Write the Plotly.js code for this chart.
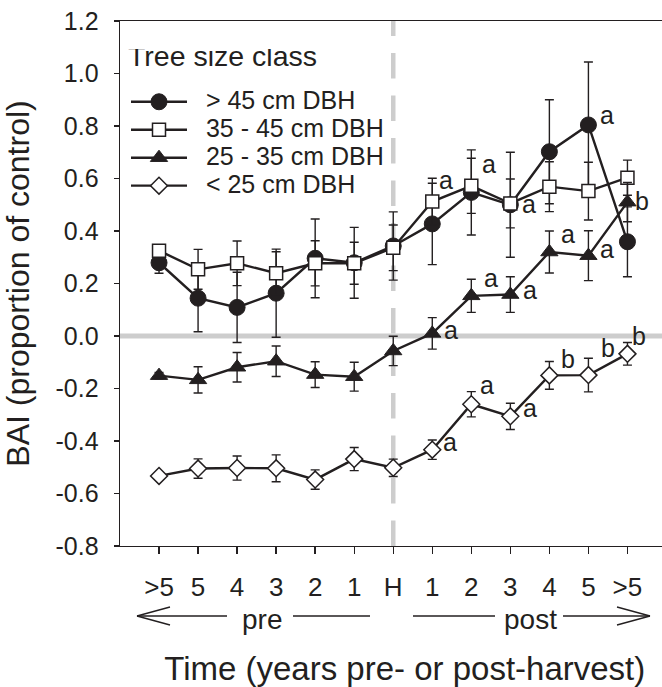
<!DOCTYPE html>
<html>
<head>
<meta charset="utf-8">
<script src="https://cdn.plot.ly/plotly-3.0.1.min.js"></script>
<style>
  html, body { margin: 0; padding: 0; background: #fff; }
  #chart { width: 662px; height: 687px; }
</style>
</head>
<body>
<div id="chart"></div>
<script>
// ---- Data ----
const timeTicks = [">5", "5", "4", "3", "2", "1", "H", "1", "2", "3", "4", "5", ">5"];
const timeIndex = [0, 1, 2, 3, 4, 5, 6, 7, 8, 9, 10, 11, 12];

const seriesNames = ["> 45 cm DBH", "35 - 45 cm DBH", "25 - 35 cm DBH", "&lt; 25 cm DBH"];

const bai_gt45   = [0.279, 0.144, 0.109, 0.163, 0.296, 0.279, 0.343, 0.427, 0.547, 0.500, 0.702, 0.804, 0.359];
const err_gt45   = [0.040, 0.128, 0.134, 0.168, 0.150, 0.135, 0.130, 0.155, 0.162, 0.200, 0.198, 0.240, 0.133];

const bai_35_45  = [0.325, 0.254, 0.277, 0.239, 0.277, 0.277, 0.336, 0.512, 0.572, 0.505, 0.569, 0.552, 0.603];
const err_35_45  = [0.015, 0.076, 0.085, 0.082, 0.086, 0.080, 0.087, 0.089, 0.105, 0.093, 0.095, 0.110, 0.067];

const bai_25_35  = [-0.151, -0.167, -0.119, -0.096, -0.147, -0.155, -0.057, 0.010, 0.153, 0.158, 0.320, 0.306, 0.510];
const err_25_35  = [0.012, 0.050, 0.056, 0.058, 0.049, 0.055, 0.056, 0.060, 0.063, 0.068, 0.080, 0.095, 0.075];

const bai_lt25   = [-0.533, -0.505, -0.503, -0.504, -0.547, -0.469, -0.502, -0.433, -0.260, -0.306, -0.150, -0.149, -0.068];
const err_lt25   = [0.010, 0.037, 0.046, 0.051, 0.037, 0.044, 0.033, 0.037, 0.048, 0.050, 0.053, 0.064, 0.043];

// significance letters per series (empty = none)
const sig_gt45   = ["", "", "", "", "", "", "", "", "", "", "", "a", ""];
const sig_35_45  = ["", "", "", "", "", "", "", "a", "a", "a", "", "", ""];
const sig_25_35  = ["", "", "", "", "", "", "", "a", "a", "a", "a", "a", "b"];
const sig_lt25   = ["", "", "", "", "", "", "", "a", "a", "a", "b", "b", "b"];

const yTickVals = [-0.8, -0.6, -0.4, -0.2, 0.0, 0.2, 0.4, 0.6, 0.8, 1.0, 1.2];
const yTickText = ["-0.8", "-0.6", "-0.4", "-0.2", "0.0", "0.2", "0.4", "0.6", "0.8", "1.0", "1.2"];

const legendTitle = "Tree size class";
const xTitle = "Time (years pre- or post-harvest)";
const yTitle = "BAI (proportion of control)";

// ---- Styling ----
const FONT = "Liberation Sans, Arial, Helvetica, sans-serif";
const INK = "#231f20";
const GREY = "#cdcdcd";

// pixel offsets of letters relative to their point (dx right, dy up)
const sigOffsets = {
  gt45:  {11: [19, 10]},
  s3545: {7: [14, 22], 8: [18, 22], 9: [19, -1]},
  s2535: {7: [19, 3], 8: [20, 18], 9: [20, 5], 10: [19, 18], 11: [19, 7], 12: [15, 1]},
  lt25:  {7: [18, 8], 8: [16, 19], 9: [20, 8], 10: [19, 16], 11: [20, 27], 12: [12, 18]}
};

function errBar(arr) {
  return { type: "data", array: arr, visible: true, color: INK, thickness: 1.4, width: 4.5 };
}
function legName(n) {
  return '<span style="font-size:25px">&nbsp;&nbsp;' + n + '</span>';
}

const traces = [
  {
    x: timeIndex, y: bai_gt45, name: legName(seriesNames[0]), type: "scatter", mode: "lines+markers",
    line: { color: INK, width: 2.4 },
    marker: { symbol: "circle", size: 16, color: INK, line: { color: INK, width: 1 } },
    error_y: errBar(err_gt45)
  },
  {
    x: timeIndex, y: bai_35_45, name: legName(seriesNames[1]), type: "scatter", mode: "lines+markers",
    line: { color: INK, width: 2.4 },
    marker: { symbol: "square", size: 13, color: "#ffffff", line: { color: INK, width: 1.5 } },
    error_y: errBar(err_35_45)
  },
  {
    x: timeIndex, y: bai_25_35, name: legName(seriesNames[2]), type: "scatter", mode: "lines+markers",
    line: { color: INK, width: 2.4 },
    marker: { symbol: "triangle-up", size: 15, color: INK, line: { color: INK, width: 1 } },
    error_y: errBar(err_25_35)
  },
  {
    x: timeIndex, y: bai_lt25, name: legName(seriesNames[3]), type: "scatter", mode: "lines+markers",
    line: { color: INK, width: 2.4 },
    marker: { symbol: "diamond", size: 13, color: "#ffffff", line: { color: INK, width: 1.5 } },
    error_y: errBar(err_lt25)
  }
];

// significance letter annotations
const annotations = [];
function addSig(letters, values, offs) {
  letters.forEach((t, i) => {
    if (!t) return;
    const o = offs[i] || [18, 0];
    annotations.push({
      x: timeIndex[i], y: values[i], xref: "x", yref: "y", text: t, showarrow: false,
      xshift: o[0], yshift: o[1], xanchor: "center", yanchor: "middle",
      font: { family: FONT, size: 25, color: INK }
    });
  });
}
addSig(sig_gt45, bai_gt45, sigOffsets.gt45);
addSig(sig_35_45, bai_35_45, sigOffsets.s3545);
addSig(sig_25_35, bai_25_35, sigOffsets.s2535);
addSig(sig_lt25, bai_lt25, sigOffsets.lt25);

// pre / post labels below tick labels
const W = 662, H = 687, ML = 120, MR = 0, MT = 21, MB = 141;
const PW = W - ML - MR, PH = H - MT - MB;
const px = v => (v - ML) / PW;          // pixel x -> paper
const py = v => (H - MB - v) / PH;      // pixel y -> paper

annotations.push({
  x: px(262), y: py(619), xref: "paper", yref: "paper", text: "pre", showarrow: false,
  xanchor: "center", yanchor: "middle", font: { family: FONT, size: 28, color: INK }
});
annotations.push({
  x: px(530), y: py(619), xref: "paper", yref: "paper", text: "post", showarrow: false,
  xanchor: "center", yanchor: "middle", font: { family: FONT, size: 28, color: INK }
});

function seg(x0, y0, x1, y1) {
  return { type: "line", xref: "paper", yref: "paper", x0: px(x0), y0: py(y0), x1: px(x1), y1: py(y1),
           line: { color: INK, width: 1.3 } };
}

const shapes = [
  // zero reference line
  { type: "line", xref: "paper", yref: "y", x0: 0, x1: 1, y0: 0, y1: 0, layer: "below",
    line: { color: GREY, width: 5 } },
  // harvest marker (dashed vertical)
  { type: "line", xref: "x", yref: "paper", x0: 6, x1: 6, y0: 0, y1: 1, layer: "below",
    line: { color: GREY, width: 4.5, dash: "25.5px,17px" } },
  // pre arrow
  seg(137, 616, 227, 616), seg(137, 616, 170, 607), seg(137, 616, 170, 625),
  seg(293, 616, 370, 616),
  // post arrow
  seg(413, 616, 495, 616),
  seg(563, 616, 650, 616), seg(650, 616, 617, 607), seg(650, 616, 617, 625)
];

const layout = {
  width: W, height: H,
  margin: { l: ML, r: MR, t: MT, b: MB, pad: 0 },
  paper_bgcolor: "#ffffff", plot_bgcolor: "#ffffff",
  font: { family: FONT, color: INK, size: 24 },
  showlegend: true,
  legend: {
    x: px(126), y: py(49), xanchor: "left", yanchor: "top",
    bgcolor: "rgba(0,0,0,0)", borderwidth: 0,
    font: { family: FONT, size: 19.2, color: INK },
    title: { text: '<span style="font-size:28.5px">' + legendTitle + '</span><br>&nbsp;', font: { family: FONT, size: 13, color: INK } },
    itemwidth: 56, tracegroupgap: 0
  },
  xaxis: {
    range: [-1, 12.885], tickvals: timeIndex, ticktext: timeTicks,
    showgrid: false, zeroline: false, showline: true, linecolor: INK, linewidth: 1.4, mirror: true,
    ticks: "outside", ticklen: 7, tickwidth: 1.4, tickcolor: INK,
    tickfont: { family: FONT, size: 26, color: INK }, ticklabelstandoff: 10,
    title: { text: "&nbsp;&nbsp;&nbsp;" + xTitle, font: { family: FONT, size: 33, color: INK }, standoff: 61 }
  },
  yaxis: {
    range: [-0.8, 1.2], tickvals: yTickVals, ticktext: yTickText,
    showgrid: false, zeroline: false, showline: true, linecolor: INK, linewidth: 1.4,
    ticks: "outside", ticklen: 5, tickwidth: 1.4, tickcolor: INK,
    tickfont: { family: FONT, size: 25, color: INK }, ticklabelstandoff: 10,
    title: { text: yTitle, font: { family: FONT, size: 32, color: INK }, standoff: 17 }
  },
  annotations: annotations,
  shapes: shapes
};

Plotly.newPlot("chart", traces, layout, { displayModeBar: false, staticPlot: true });
</script>
</body>
</html>
